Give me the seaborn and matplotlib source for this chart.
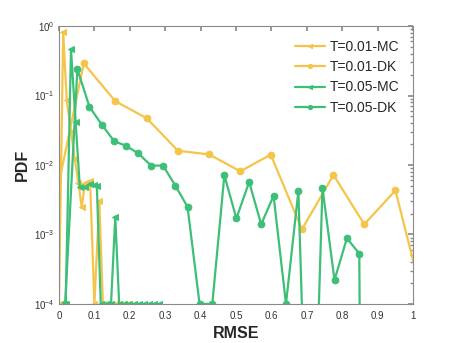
import numpy as np
import pandas as pd
import matplotlib
matplotlib.use("Agg")
import matplotlib.pyplot as plt
import seaborn as sns

# ---- data ----
mc01_x = [0.000, 0.012, 0.022, 0.034, 0.045, 0.055, 0.064, 0.074, 0.088, 0.100, 0.114, 0.124,
          0.135, 0.147, 0.158, 0.170, 0.181, 0.192]
mc01_y = [1e-4, 0.81, 0.086, 0.030, 0.012, 0.0055, 0.0025, 0.0055, 0.0058, 1e-4, 0.003, 1e-4,
          1e-4, 1e-4, 1e-4, 1e-4, 1e-4, 1e-4]

dk01_x = [-0.018, 0.070, 0.159, 0.248, 0.336, 0.424, 0.512, 0.598, 0.686, 0.775, 0.862, 0.950, 1.038]
dk01_y = [0.002, 0.29, 0.083, 0.047, 0.016, 0.0142, 0.0081, 0.0141, 0.00118, 0.0072, 0.0014, 0.0043, 7.2e-5]

mc05_x = [0.019, 0.034, 0.047, 0.059, 0.074, 0.088, 0.098, 0.107, 0.118, 0.133, 0.147, 0.159,
          0.170, 0.184, 0.198, 0.212, 0.226, 0.240, 0.254, 0.268, 0.282]
mc05_y = [1e-4, 0.46, 0.042, 0.0048, 0.0048, 0.0054, 0.0052, 0.005, 1e-4, 1e-4, 1e-4, 0.0018,
          1e-4, 1e-4, 1e-4, 1e-4, 1e-4, 1e-4, 1e-4, 1e-4, 1e-4]

dk05_x = [0.0175, 0.052, 0.086, 0.121, 0.156, 0.190, 0.224, 0.260, 0.294, 0.329, 0.363, 0.397,
          0.433, 0.467, 0.501, 0.537, 0.571, 0.606, 0.641, 0.676, 0.710, 0.744, 0.778, 0.813,
          0.848, 0.882]
dk05_y = [1e-4, 0.24, 0.069, 0.038, 0.022, 0.0188, 0.0147, 0.0098, 0.0098, 0.005, 0.0025, 1e-4,
          1e-4, 0.0071, 0.0017, 0.0057, 0.0014, 0.0036, 1e-4, 0.0042, 1e-8, 0.0047, 0.00022, 0.00088,
          0.00053, 1e-30]

labels = ["T=0.01-MC", "T=0.01-DK", "T=0.05-MC", "T=0.05-DK"]

YELLOW = "#F4C54A"
GREEN = "#3DBF78"

sns.set_theme(style="white")
plt.rcParams["font.family"] = ["Liberation Sans", "DejaVu Sans"]

fig = plt.figure(figsize=(4.57, 3.43), dpi=100)
ax = fig.add_axes([0.129, 0.114, 0.775, 0.81])

series = [
    (mc01_x, mc01_y, YELLOW, "<", labels[0]),
    (dk01_x, dk01_y, YELLOW, "o", labels[1]),
    (mc05_x, mc05_y, GREEN, "<", labels[2]),
    (dk05_x, dk05_y, GREEN, "o", labels[3]),
]
for xs, ys, col, mk, lab in series:
    df = pd.DataFrame({"x": xs, "y": ys})
    sns.lineplot(data=df, x="x", y="y", ax=ax, sort=False, estimator=None,
                 color=col, marker=mk, markersize=4.8, markeredgecolor=col,
                 markerfacecolor=col, linewidth=1.6, label=lab)

ax.set_yscale("log")
ax.set_xlim(0, 1)
ax.set_ylim(1e-4, 1)
ax.set_xticks(np.arange(0, 1.01, 0.1))
ax.set_xticklabels(["0", "0.1", "0.2", "0.3", "0.4", "0.5", "0.6", "0.7", "0.8", "0.9", "1"])
ax.set_yticks([1e-4, 1e-3, 1e-2, 1e-1, 1])

for s in ax.spines.values():
    s.set_color("#8a8a8a")
    s.set_linewidth(0.8)
ax.tick_params(which="both", direction="in", top=True, right=True, colors="#8a8a8a",
               labelcolor="#333333", labelsize=7)
ax.tick_params(axis="x", pad=5)
ax.tick_params(axis="y", pad=3)
ax.tick_params(which="major", length=3.5)
ax.tick_params(which="minor", length=2)

ax.set_xlabel("RMSE", fontsize=11.5, fontweight="bold", labelpad=4)
ax.set_ylabel("PDF", fontsize=11.5, fontweight="bold", labelpad=3)

leg = ax.legend(loc="upper right", frameon=False, fontsize=10, handlelength=2.2,
                handletextpad=0.3, labelspacing=0.45, borderaxespad=0.6)
for h in leg.legend_handles:
    h.set_markersize(3)

fig.savefig("out.png", dpi=100)
